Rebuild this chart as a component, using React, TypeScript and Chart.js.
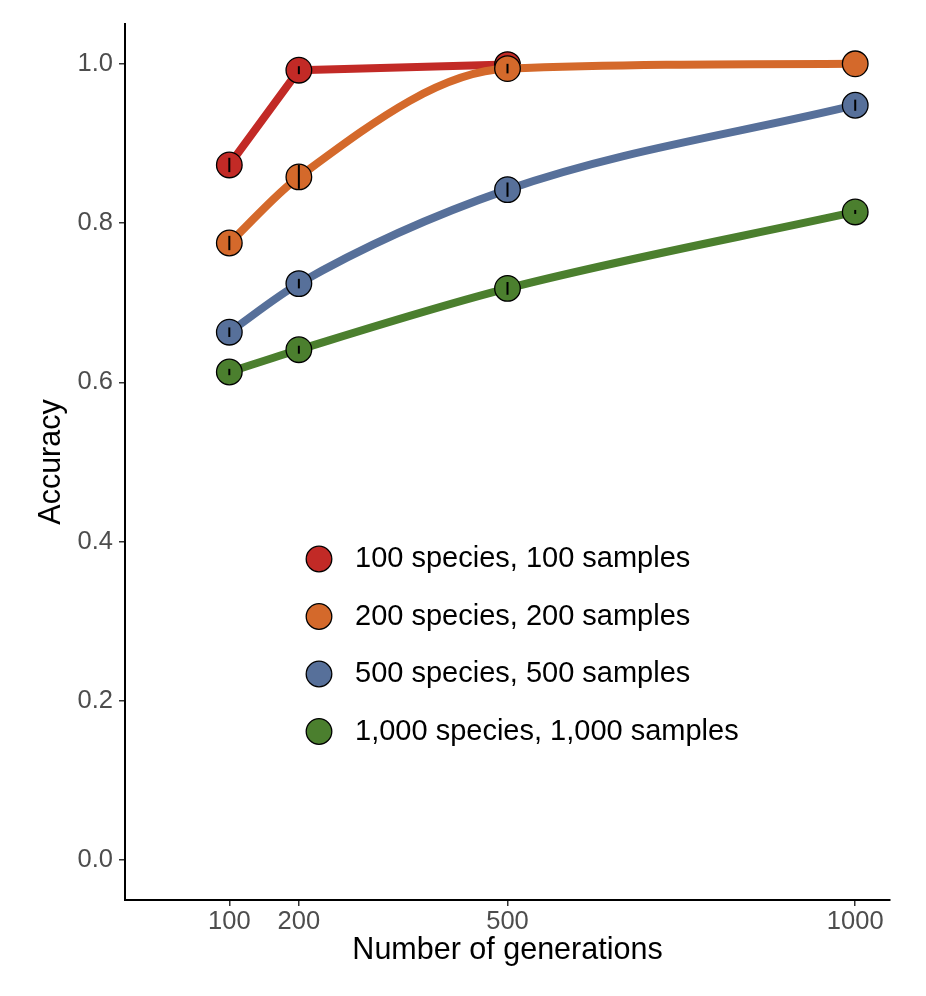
import React, { useEffect, useRef } from "react";
import { Chart, registerables } from "chart.js";

Chart.register(...registerables);

// ---- data ----
const generations = [100, 200, 500, 1000];
const seriesLabels = [
  "100 species, 100 samples",
  "200 species, 200 samples",
  "500 species, 500 samples",
  "1,000 species, 1,000 samples",
];
const seriesColors = ["#C22A26", "#D4692B", "#57709A", "#4B7F2E"];
const acc100 = [0.873, 0.992, 0.999, null];
const acc200 = [0.775, 0.858, 0.994, 1.0];
const acc500 = [0.663, 0.724, 0.842, 0.948];
const acc1000 = [0.613, 0.641, 0.718, 0.814];
const err100 = [0.009, 0.005, 0.0, 0.0];
const err200 = [0.009, 0.015, 0.006, 0.0];
const err500 = [0.006, 0.006, 0.009, 0.007];
const err1000 = [0.004, 0.005, 0.008, 0.0025];
const yTicks = [0, 0.2, 0.4, 0.6, 0.8, 1.0];
const xTicks = [100, 200, 500, 1000];
const xTitle = "Number of generations";
const yTitle = "Accuracy";

const FONT = "'Liberation Sans', Arial, Helvetica, sans-serif";

const seriesValues = [acc100, acc200, acc500, acc1000];
const seriesErrors = [err100, err200, err500, err1000];

const errorBarPlugin = {
  id: "errorBars",
  afterDatasetsDraw(chart: any) {
    const ctx = chart.ctx;
    const xs = chart.scales.x;
    const ys = chart.scales.y;
    ctx.save();
    ctx.strokeStyle = "#000";
    ctx.lineWidth = 2;
    seriesValues.forEach((vals, si) => {
      vals.forEach((v, i) => {
        const e = seriesErrors[si][i];
        if (v == null || !e) return;
        const px = xs.getPixelForValue(generations[i]);
        ctx.beginPath();
        ctx.moveTo(px, ys.getPixelForValue(v - e));
        ctx.lineTo(px, ys.getPixelForValue(v + e));
        ctx.stroke();
      });
    });
    ctx.restore();
  },
};

const legendPlugin = {
  id: "insetLegend",
  afterDraw(chart: any) {
    const ctx = chart.ctx;
    const ca = chart.chartArea;
    const cx = ca.left + 194;
    const tx = ca.left + 230;
    const y0 = ca.top + 535;
    const step = 57.5;
    ctx.save();
    seriesLabels.forEach((label, i) => {
      const y = y0 + i * step;
      ctx.beginPath();
      ctx.arc(cx, y, 12.8, 0, Math.PI * 2);
      ctx.fillStyle = seriesColors[i];
      ctx.fill();
      ctx.lineWidth = 1.3;
      ctx.strokeStyle = "#000";
      ctx.stroke();
      ctx.fillStyle = "#000";
      ctx.font = `29px ${FONT}`;
      ctx.textBaseline = "middle";
      ctx.textAlign = "left";
      ctx.fillText(label, tx, y);
    });
    ctx.restore();
  },
};

export default function App() {
  const canvasRef = useRef<HTMLCanvasElement | null>(null);

  useEffect(() => {
    if (!canvasRef.current) return;
    const datasets = seriesValues.map((vals, si) => ({
      label: seriesLabels[si],
      data: vals.map((v, i) => ({ x: generations[i], y: v })),
      borderColor: seriesColors[si],
      backgroundColor: seriesColors[si],
      borderWidth: 8,
      borderCapStyle: "round" as const,
      borderJoinStyle: "round" as const,
      pointRadius: 12.8,
      pointBorderWidth: 1.3,
      pointBorderColor: "#000",
      pointBackgroundColor: seriesColors[si],
      cubicInterpolationMode: si === 0 ? ("default" as const) : ("monotone" as const),
      tension: 0,
      order: 4 - si,
      spanGaps: false,
    }));

    const chart = new Chart(canvasRef.current, {
      type: "line",
      data: { datasets },
      options: {
        animation: false,
        responsive: false,
        maintainAspectRatio: false,
        layout: { padding: { left: 0, top: 24, right: 36, bottom: 0 } },
        plugins: {
          legend: { display: false },
          tooltip: { enabled: false },
        },
        scales: {
          x: {
            type: "linear",
            min: -50,
            max: 1050,
            afterBuildTicks: (scale: any) => {
              scale.ticks = xTicks.map((v) => ({ value: v }));
            },
            afterFit: (scale: any) => {
              scale.height = 96;
            },
            ticks: {
              autoSkip: false,
              maxRotation: 0,
              padding: 1,
              color: "#4d4d4d",
              font: { family: FONT, size: 25.5 },
              callback: (v: any) => String(v),
            },
            grid: {
              drawOnChartArea: false,
              drawTicks: true,
              tickLength: 6,
              color: "#333",
              lineWidth: 1.5,
            },
            border: { display: true, color: "#000", width: 2 },
            title: {
              display: true,
              text: xTitle,
              color: "#000",
              font: { family: FONT, size: 30.5 },
              padding: { top: 0, bottom: 27 },
            },
          },
          y: {
            type: "linear",
            min: -0.05,
            max: 1.05,
            afterBuildTicks: (scale: any) => {
              scale.ticks = yTicks.map((v) => ({ value: v }));
            },
            afterFit: (scale: any) => {
              scale.width = 125;
            },
            ticks: {
              autoSkip: false,
              padding: 6,
              color: "#4d4d4d",
              font: { family: FONT, size: 25.5 },
              callback: (v: any) => Number(v).toFixed(1),
            },
            grid: {
              drawOnChartArea: false,
              drawTicks: true,
              tickLength: 6,
              color: "#333",
              lineWidth: 1.5,
            },
            border: { display: true, color: "#000", width: 2 },
            title: {
              display: true,
              text: yTitle,
              color: "#000",
              font: { family: FONT, size: 30.5 },
              padding: { top: 33, bottom: 0 },
            },
          },
        },
      },
      plugins: [errorBarPlugin, legendPlugin],
    });
    return () => chart.destroy();
  }, []);

  return (
    <div style={{ position: "fixed", left: 0, top: 0, width: 926, height: 996, background: "#fff" }}>
      <canvas ref={canvasRef} width={926} height={996} style={{ width: 926, height: 996, display: "block" }} />
    </div>
  );
}
